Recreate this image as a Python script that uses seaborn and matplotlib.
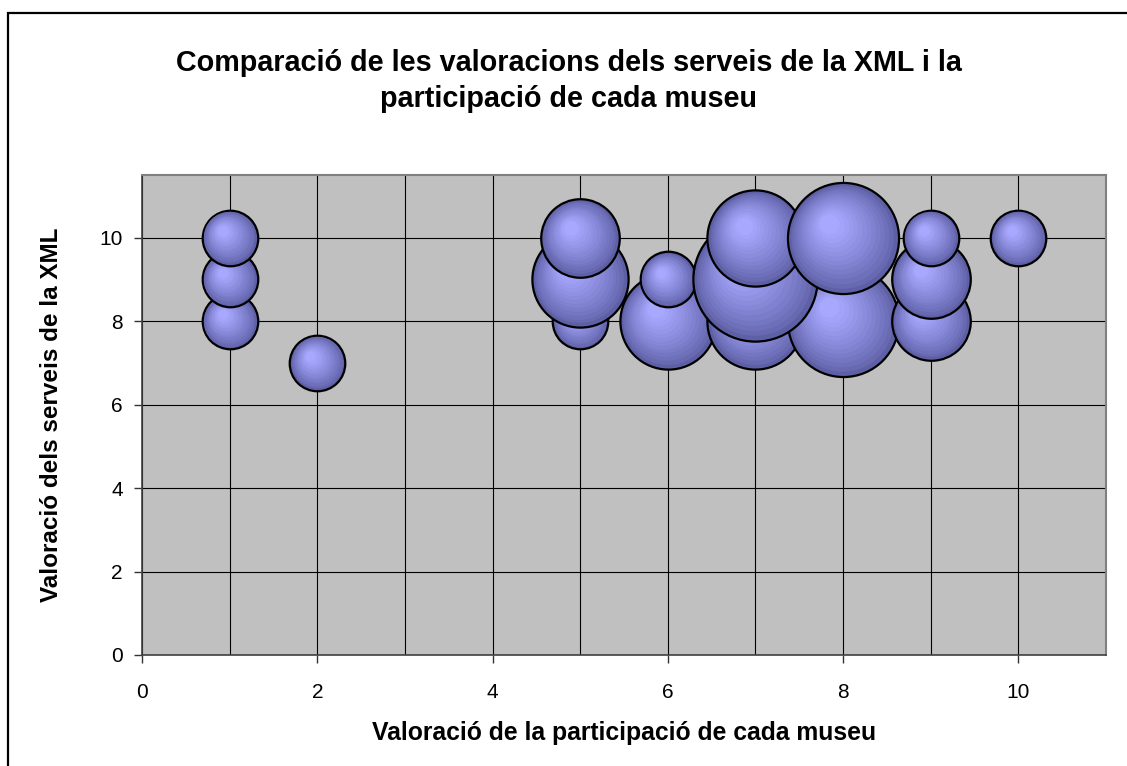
import numpy as np
import matplotlib
matplotlib.use("Agg")
import matplotlib.pyplot as plt
import matplotlib.transforms as mtransforms
from matplotlib.colors import to_rgb
from matplotlib.patches import Rectangle
from matplotlib.ticker import MultipleLocator
import seaborn as sns

# museu data: participation score, XML services score, number of museums
participacio = [1, 2, 5, 6, 7, 8, 9, 1, 5, 6, 7, 9, 1, 5, 7, 8, 9, 10]
serveis = [8, 7, 8, 8, 8, 8, 8, 9, 9, 9, 9, 9, 10, 10, 10, 10, 10, 10]
museus = [1, 1, 1, 3, 3, 4, 2, 1, 3, 1, 5, 2, 1, 2, 3, 4, 1, 1]

sns.set_style("white")
plt.rcParams["font.family"] = ["Liberation Sans", "DejaVu Sans"]
for key in ["text.color", "axes.labelcolor", "xtick.color", "ytick.color"]:
    plt.rcParams[key] = "black"

W, H = 1127, 766
fig = plt.figure(figsize=(W / 100, H / 100), dpi=100)
ax = fig.add_axes([142 / W, 1 - 655 / H, (1106 - 142) / W, (655 - 175) / H])
ax.set_facecolor("#c0c0c0")

# outer chart frame (only top and left edges are visible in the original)
fig.patches.append(Rectangle((8 / W, -0.2), 1.2, 1.2 - 13 / H,
                             transform=fig.transFigure, fill=False,
                             edgecolor="black", linewidth=1.6, zorder=0))

edge_rgb = np.array(to_rgb("#5e60a6"))
light_rgb = np.array(to_rgb("#a8a8ff"))
unit_s = 1600  # marker area (pt^2) for one museum
n_layers = 14

# draw row by row (y then x) so overlaps stack like the original
order = np.lexsort((participacio, serveis))
for k, i in enumerate(order):
    x, y, v = participacio[i], serveis[i], museus[i]
    s = unit_s * v
    r_pt = np.sqrt(s) / 2
    z = 3 + k
    sns.scatterplot(x=[x], y=[y], s=s, color=edge_rgb, edgecolor="black",
                    linewidth=1.6, ax=ax, zorder=z, legend=False)
    # fake sphere shading: shrinking lighter discs shifted up-left
    for j in range(1, n_layers):
        f = 1 - j / n_layers * 0.88
        t = (j / (n_layers - 1)) ** 0.8
        col = edge_rgb + (light_rgb - edge_rgb) * t
        off = (1 - f) * r_pt * 0.3
        tr = mtransforms.offset_copy(ax.transData, fig=fig, x=-off, y=off, units="points")
        ax.scatter([x], [y], s=s * f * f * 0.97, color=col, linewidths=0,
                   transform=tr, zorder=z + j / (n_layers + 1))

ax.set_xlim(0, 11)
ax.set_ylim(0, 11.5)
ax.xaxis.set_major_locator(MultipleLocator(2))
ax.xaxis.set_minor_locator(MultipleLocator(1))
ax.yaxis.set_major_locator(MultipleLocator(2))
ax.grid(True, which="both", axis="x", color="black", linewidth=0.8, zorder=1)
ax.grid(True, which="major", axis="y", color="black", linewidth=0.8, zorder=1)
ax.set_axisbelow(True)
ax.tick_params(axis="both", which="major", direction="out", length=5.8, width=1,
               color="#333333", labelsize=15, left=True, bottom=True)
ax.tick_params(axis="x", which="major", pad=14)
ax.tick_params(axis="y", which="major", pad=8)
ax.tick_params(axis="x", which="minor", length=0)

for side in ["top", "right"]:
    ax.spines[side].set_color("#808080")
    ax.spines[side].set_linewidth(1.5)
for side in ["left", "bottom"]:
    ax.spines[side].set_color("#404040")
    ax.spines[side].set_linewidth(1.2)

ax.set_xlabel("Valoració de la participació de cada museu", fontsize=17.8,
              fontweight="bold")
ax.set_ylabel("Valoració dels serveis de la XML", fontsize=17.5,
              fontweight="bold")
ax.xaxis.set_label_coords(0.5, (655 - 721) / 480)
ax.yaxis.set_label_coords((63 - 142) / 964, 0.5)

title_lines = ["Comparació de les valoracions dels serveis de la XML i la",
               "participació de cada museu"]
fig.text(569 / W, 1 - 71 / H, title_lines[0], ha="center", va="baseline",
         fontsize=20.7, fontweight="bold")
fig.text(569 / W, 1 - 107 / H, title_lines[1], ha="center", va="baseline",
         fontsize=20.7, fontweight="bold")

fig.savefig("out.png", dpi=100)
